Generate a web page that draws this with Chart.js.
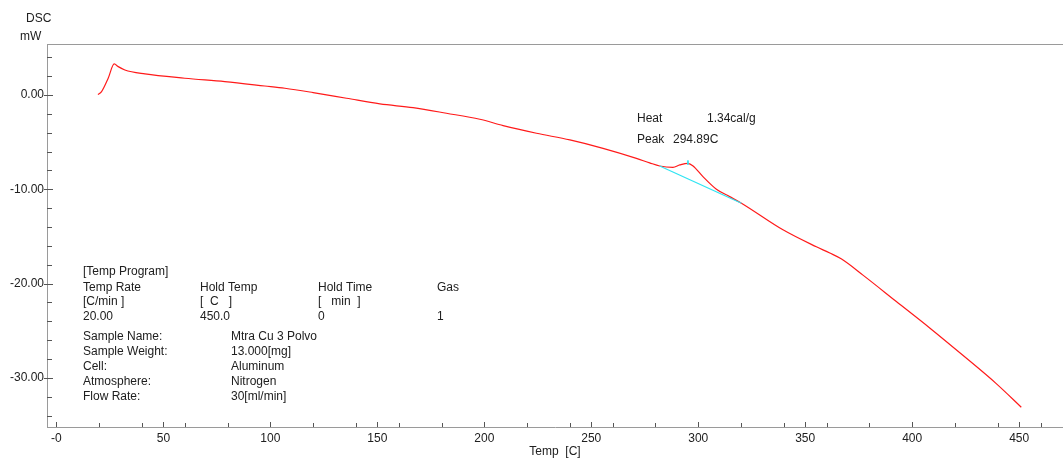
<!DOCTYPE html>
<html>
<head>
<meta charset="utf-8">
<script src="https://cdn.jsdelivr.net/npm/chart.js@4.4.0/dist/chart.umd.min.js"></script>
<style>
  html, body { margin: 0; padding: 0; background: #ffffff; }
  #wrap { width: 1063px; height: 459px; position: relative; }
</style>
</head>
<body>
<div id="wrap"><canvas id="c" width="1063" height="459"></canvas></div>
<script>
// ---- Data ----
const temps = [19.4, 21.1, 24.2, 27.0, 28.9, 32.0, 41.4, 60.0, 78.7, 97.4, 106.8, 120.0, 135.6, 151.2, 166.7, 182.3, 197.9, 208.8, 224.4, 240.0, 255.5, 271.1, 277.3, 282.0, 288.2, 291.4, 295.2, 297.6, 302.2, 308.5, 314.7, 320.2, 339.6, 355.2, 361.5, 367.0, 377.0, 392.6, 408.2, 423.7, 439.3, 451.0];
const dsc   = [0.05, 0.35, 1.77, 3.29, 3.0, 2.65, 2.23, 1.77, 1.41, 0.95, 0.71, 0.25, -0.35, -0.95, -1.35, -1.94, -2.58, -3.25, -4.06, -4.77, -5.66, -6.72, -7.2, -7.53, -7.67, -7.42, -7.25, -7.53, -8.66, -10.0, -10.78, -11.48, -14.3, -16.1, -16.76, -17.4, -19.1, -21.9, -24.7, -27.6, -30.6, -33.1];

const baseTemps = [282.0, 320.2];
const baseDsc   = [-7.53, -11.48];
const peakMarkTemps = [295.2, 295.2];
const peakMarkDsc   = [-6.95, -7.4];

const xTickValues  = [0, 20, 40, 50, 60, 80, 100, 120, 140, 150, 160, 180, 200, 220, 240, 250, 260, 280, 300, 320, 340, 350, 360, 380, 400, 420, 440, 450, 460];
const xLabelValues = [0, 50, 100, 150, 200, 250, 300, 350, 400, 450];
const xLabels      = ['-0', '50', '100', '150', '200', '250', '300', '350', '400', '450'];

const yTickValues  = [4, 2, 0, -2, -4, -6, -8, -10, -12, -14, -16, -18, -20, -22, -24, -26, -28, -30, -32, -34];
const yLabelValues = [0, -10, -20, -30];
const yLabels      = ['0.00', '-10.00', '-20.00', '-30.00'];

const infoRows = [
  ['[Temp Program]', '', '', ''],
  ['Temp Rate', 'Hold Temp', 'Hold Time', 'Gas'],
  ['[C/min ]', '[  C   ]', '[   min  ]', ''],
  ['20.00', '450.0', '0', '1']
];
const sampleKeys = ['Sample Name:', 'Sample Weight:', 'Cell:', 'Atmosphere:', 'Flow Rate:'];
const sampleVals = ['Mtra Cu 3 Polvo', '13.000[mg]', 'Aluminum', 'Nitrogen', '30[ml/min]'];
const peakText = { heatLabel: 'Heat', heatValue: '1.34cal/g', peakLabel: 'Peak', peakValue: '294.89C' };

// ---- Chart ----
const FONT = '"Liberation Sans", Arial, sans-serif';
const TXT = '#202020';
const AXIS = '#9a9a9a';

const decorPlugin = {
  id: 'decor',
  afterDraw(chart) {
    const ctx = chart.ctx;
    const ca = chart.chartArea;
    const xs = chart.scales.x, ys = chart.scales.y;
    ctx.save();
    // top frame line
    ctx.strokeStyle = AXIS;
    ctx.lineWidth = 1;
    ctx.beginPath();
    ctx.moveTo(ca.left, Math.round(ca.top) + 0.5);
    ctx.lineTo(ca.right, Math.round(ca.top) + 0.5);
    ctx.stroke();
    // x ticks (inward)
    ctx.strokeStyle = '#555';
    xTickValues.forEach(v => {
      const px = Math.round(xs.getPixelForValue(v)) + 0.5;
      const major = xLabelValues.includes(v);
      ctx.beginPath();
      ctx.moveTo(px, ca.bottom);
      ctx.lineTo(px, ca.bottom - (major ? 5 : 4));
      ctx.stroke();
    });
    // y ticks
    yTickValues.forEach(v => {
      const py = Math.round(ys.getPixelForValue(v)) + 0.5;
      const major = yLabelValues.includes(v);
      ctx.beginPath();
      ctx.moveTo(ca.left - (major ? 3 : 0), py);
      ctx.lineTo(ca.left + (major ? 6 : 5), py);
      ctx.stroke();
    });
    // axis unit titles
    ctx.fillStyle = TXT;
    ctx.font = '12px ' + FONT;
    ctx.textBaseline = 'middle';
    ctx.textAlign = 'left';
    ctx.fillText('DSC', 26, 19);
    ctx.fillText('mW', 20, 37);
    // peak annotation
    ctx.fillText(peakText.heatLabel, 637, 119);
    ctx.fillText(peakText.heatValue, 707, 119);
    ctx.fillText(peakText.peakLabel, 637, 140);
    ctx.fillText(peakText.peakValue, 673, 140);
    // info block
    const cols = [83, 200, 318, 437];
    const rowsY = [272, 288, 302, 317];
    infoRows.forEach((row, i) => {
      row.forEach((t, j) => { if (t) ctx.fillText(t, cols[j], rowsY[i]); });
    });
    sampleKeys.forEach((k, i) => {
      const y = 337 + i * 15;
      ctx.fillText(k, 83, y);
      ctx.fillText(sampleVals[i], 231, y);
    });
    ctx.restore();
  }
};

new Chart(document.getElementById('c'), {
  type: 'scatter',
  data: {
    datasets: [
      {
        data: baseTemps.map((t, i) => ({ x: t, y: baseDsc[i] })),
        showLine: true, borderColor: '#2fe4f2', borderWidth: 1.2, pointRadius: 0, tension: 0
      },
      {
        data: peakMarkTemps.map((t, i) => ({ x: t, y: peakMarkDsc[i] })),
        showLine: true, borderColor: '#2fe4f2', borderWidth: 1, pointRadius: 0, tension: 0
      },
      {
        data: temps.map((t, i) => ({ x: t, y: dsc[i] })),
        showLine: true, borderColor: '#ff1a1a', borderWidth: 1.2, pointRadius: 0,
        cubicInterpolationMode: 'monotone'
      }
    ]
  },
  options: {
    responsive: false,
    devicePixelRatio: 1,
    animation: false,
    layout: { padding: { top: 44, right: 0, left: 0, bottom: 0 } },
    plugins: { legend: { display: false }, tooltip: { enabled: false } },
    scales: {
      x: {
        type: 'linear', min: -4.4, max: 470.5,
        afterBuildTicks(scale) { scale.ticks = xTickValues.map(v => ({ value: v })); },
        afterFit(scale) { scale.height = 32; },
        grid: { display: false, drawTicks: false },
        border: { display: true, color: AXIS, width: 1 },
        ticks: {
          autoSkip: false, maxRotation: 0, padding: 4,
          color: TXT, font: { size: 12, family: FONT },
          callback(v) { const i = xLabelValues.indexOf(v); return i >= 0 ? xLabels[i] : ''; }
        },
        title: { display: true, text: 'Temp  [C]', color: TXT, font: { size: 12, family: FONT }, padding: { top: 0, bottom: 0 } }
      },
      y: {
        type: 'linear', min: -35.2, max: 5.4,
        afterBuildTicks(scale) { scale.ticks = yTickValues.map(v => ({ value: v })); },
        afterFit(scale) { scale.width = 47; },
        grid: { display: false, drawTicks: false },
        border: { display: true, color: AXIS, width: 1 },
        ticks: {
          autoSkip: false, padding: 3,
          color: TXT, font: { size: 12, family: FONT },
          callback(v) { const i = yLabelValues.indexOf(v); return i >= 0 ? yLabels[i] : ''; }
        }
      }
    }
  },
  plugins: [decorPlugin]
});
</script>
</body>
</html>
